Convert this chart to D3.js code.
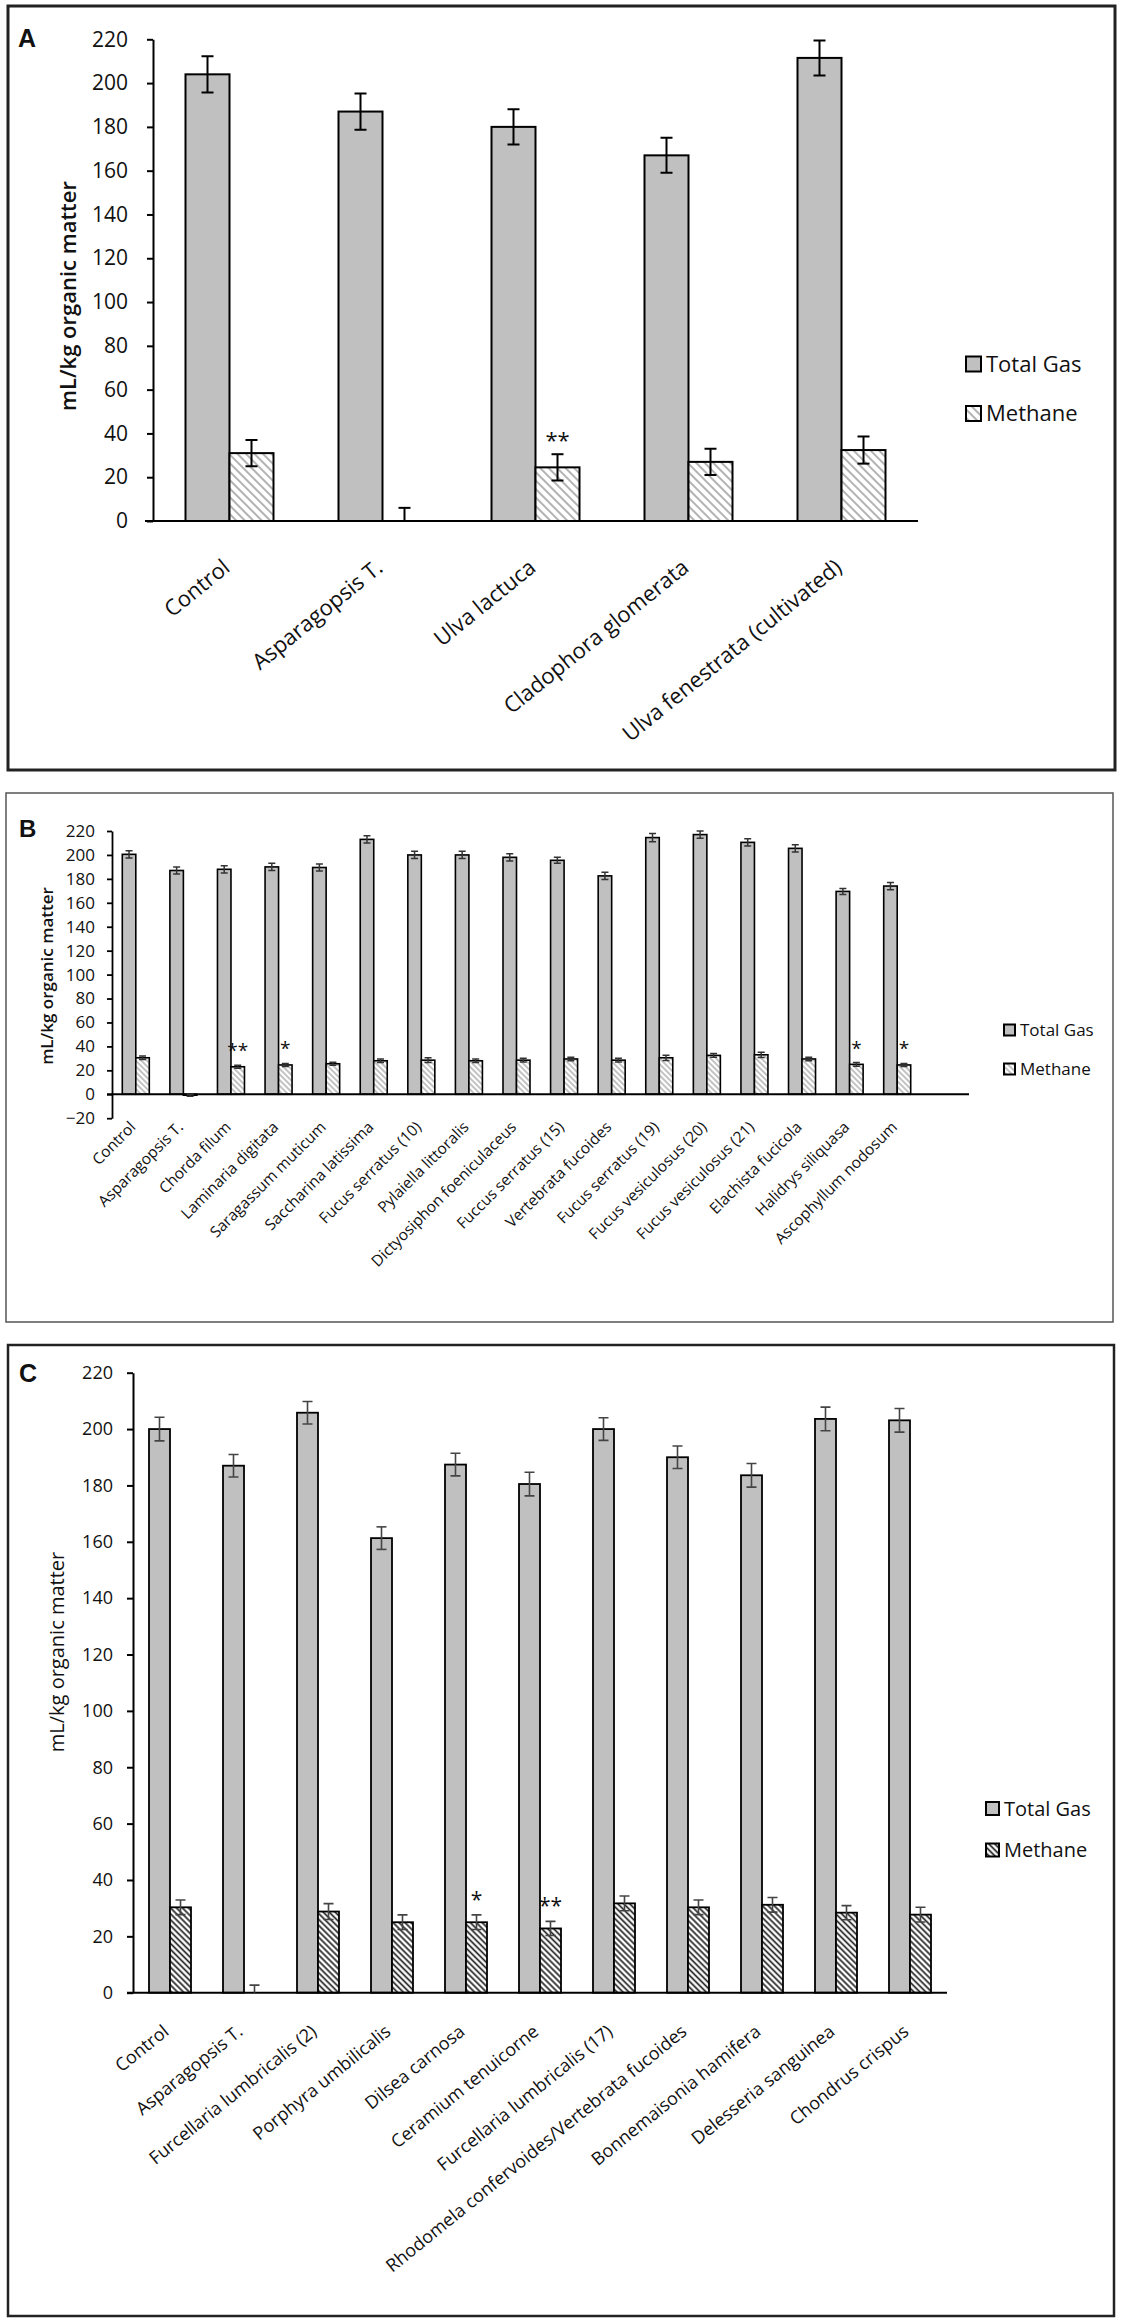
<!DOCTYPE html>
<html>
<head>
<meta charset="utf-8">
<script src="https://cdn.jsdelivr.net/npm/d3@7"></script>
<style>
	body { margin: 0; background: #fff; }
	text { font-family: "Open Sans", sans-serif; fill: #111; }
</style>
</head>
<body>
<div id="chart"></div>
<script>
// ---- panel A data ----
const categories_a = ["Control", "Asparagopsis T.", "Ulva lactuca", "Cladophora glomerata", "Ulva fenestrata (cultivated)"];
const total_gas_a = [204, 187, 180, 167, 211.5];
const total_gas_err_a = [8.3, 8.3, 8, 8, 8];
const methane_a = [31, 0, 24.5, 27, 32.4];
const methane_err_a = [6, 6, 6, 6, 6.2];
const stars_a = ["", "", "**", "", ""];
const y_ticks_a = [0, 20, 40, 60, 80, 100, 120, 140, 160, 180, 200, 220];

// ---- panel B data ----
const categories_b = ["Control", "Asparagopsis T.", "Chorda filum", "Laminaria digitata", "Saragassum muticum",
	"Saccharina latissima", "Fucus serratus (10)", "Pylaiella littoralis", "Dictyosiphon foeniculaceus",
	"Fuccus serratus (15)", "Vertebrata fucoides", "Fucus serratus (19)", "Fucus vesiculosus (20)",
	"Fucus vesiculosus (21)", "Elachista fucicola", "Halidrys siliquasa", "Ascophyllum nodosum"];
const total_gas_b = [200.5, 187, 188, 190, 189.5, 213, 200, 200, 198, 195.5, 182.5, 214.5, 217, 210.5, 205.5, 169.5, 174];
const total_gas_err_b = [3, 3, 3, 3, 3, 3, 3, 3, 3, 2.5, 3, 3.5, 3, 3, 3, 2.5, 3];
const methane_b = [30.5, -0.8, 23, 24.5, 25.5, 28, 28.5, 28, 28.5, 29.5, 28.5, 30.5, 32.5, 33, 29.5, 25, 24.5];
const methane_err_b = [1.5, 0.8, 1.3, 1.3, 1.3, 1.5, 2, 1.5, 1.5, 1.5, 1.5, 2.2, 1.5, 2.2, 1.5, 1.5, 1.3];
const stars_b = ["", "", "**", "*", "", "", "", "", "", "", "", "", "", "", "", "*", "*"];
const y_ticks_b = [-20, 0, 20, 40, 60, 80, 100, 120, 140, 160, 180, 200, 220];

// ---- panel C data ----
const categories_c = ["Control", "Asparagopsis T.", "Furcellaria lumbricalis (2)", "Porphyra umbilicalis",
	"Dilsea carnosa", "Ceramium tenuicorne", "Furcellaria lumbricalis (17)",
	"Rhodomela confervoides/Vertebrata fucoides", "Bonnemaisonia hamifera", "Delesseria sanguinea", "Chondrus crispus"];
const total_gas_c = [200, 187, 205.8, 161.3, 187.4, 180.5, 200, 190, 183.6, 203.6, 203.1];
const total_gas_err_c = [4.2, 4, 4, 4, 4, 4.2, 4, 4, 4.2, 4.2, 4.2];
const methane_c = [30.3, 0, 28.8, 25, 25, 22.8, 31.7, 30.3, 31.2, 28.4, 27.7];
const methane_err_c = [2.6, 2.7, 2.8, 2.6, 2.6, 2.5, 2.6, 2.6, 2.6, 2.5, 2.6];
const stars_c = ["", "", "", "", "*", "**", "", "", "", "", ""];
const y_ticks_c = [0, 20, 40, 60, 80, 100, 120, 140, 160, 180, 200, 220];

const series_names = ["Total Gas", "Methane"];
const y_title = "mL/kg organic matter";

const svg = d3.select("#chart").append("svg")
	.attr("width", 1122)
	.attr("height", 2320);
const defs = svg.append("defs");

// layout of the three panels (pixel positions only)
const panels = [
	{
		id: "a", letter: "A", cats: categories_a, tg: total_gas_a, tg_err: total_gas_err_a,
		ch4: methane_a, ch4_err: methane_err_a, stars: stars_a, ticks: y_ticks_a,
		frame: [8, 6, 1115, 770], frame_w: 3, frame_col: "#222",
		letter_pos: [18, 47], letter_size: 25,
		y_range: [521, 39.3], x_range: [153, 918], axis_end: 918, axis_start: 145,
		bar_w: 44, axis_w: 2, tick_size: 6, tick_font: 21, tick_pad: 19,
		label_font: 22, label_angle: -39, label_dx: -3, label_dy: 43,
		title_pos: [68, 296], title_font: 22, title_weight: 600,
		legend_x: 966, legend_y: [364, 413.5], legend_box: 15, legend_font: 22,
		star_font: 22, star_gap: 6,
		err_cap: 12, err_col: "#000", err_w: 2, bar_stroke: 2,
		hatch: { col: "#a0a0a0", w: 1.6, gap: 6 },
	},
	{
		id: "b", letter: "B", cats: categories_b, tg: total_gas_b, tg_err: total_gas_err_b,
		ch4: methane_b, ch4_err: methane_err_b, stars: stars_b, ticks: y_ticks_b,
		frame: [6, 793, 1113, 1322], frame_w: 1.5, frame_col: "#555",
		letter_pos: [19, 837], letter_size: 24,
		y_range: [1118.2, 831], x_range: [112, 921], axis_end: 969, axis_start: 107,
		bar_w: 13.5, axis_w: 1.8, tick_size: 5, tick_font: 17, tick_pad: 12,
		label_font: 15.5, label_angle: -45, label_dx: -3, label_dy: 6,
		title_pos: [47, 976], title_font: 17, title_weight: 600,
		legend_x: 1004, legend_y: [1030, 1069], legend_box: 11, legend_font: 17,
		star_font: 19, star_gap: 8,
		err_cap: 7, err_col: "#333", err_w: 1.5, bar_stroke: 1.6,
		hatch: { col: "#9a9a9a", w: 1.2, gap: 4 },
	},
	{
		id: "c", letter: "C", cats: categories_c, tg: total_gas_c, tg_err: total_gas_err_c,
		ch4: methane_c, ch4_err: methane_err_c, stars: stars_c, ticks: y_ticks_c,
		frame: [8, 1345, 1114, 2316], frame_w: 2.5, frame_col: "#222",
		letter_pos: [19, 1382], letter_size: 25,
		y_range: [1992.7, 1372.7], x_range: [133, 947], axis_end: 947, axis_start: 127,
		bar_w: 21, axis_w: 2, tick_size: 6, tick_font: 18, tick_pad: 14,
		label_font: 18, label_angle: -39, label_dx: -4, label_dy: 36,
		title_pos: [57, 1652], title_font: 20, title_weight: 400,
		legend_x: 986, legend_y: [1808.5, 1850], legend_box: 13, legend_font: 20,
		star_font: 21, star_gap: 8,
		err_cap: 10, err_col: "#444", err_w: 1.6, bar_stroke: 1.8,
		hatch: { col: "#222", w: 1.7, gap: 4.2 },
	},
];

function make_hatch(p) {
	const pat = defs.append("pattern")
		.attr("id", "hatch_" + p.id)
		.attr("patternUnits", "userSpaceOnUse")
		.attr("width", p.hatch.gap)
		.attr("height", p.hatch.gap)
		.attr("patternTransform", "rotate(-45)");
	pat.append("rect")
		.attr("width", p.hatch.gap)
		.attr("height", p.hatch.gap)
		.attr("fill", "#fff");
	pat.append("line")
		.attr("x1", p.hatch.gap / 2).attr("x2", p.hatch.gap / 2)
		.attr("y1", 0).attr("y2", p.hatch.gap)
		.attr("stroke", p.hatch.col)
		.attr("stroke-width", p.hatch.w);
	return "url(#hatch_" + p.id + ")";
}

function draw_panel(p) {
	const g = svg.append("g").attr("class", "panel_" + p.id);
	const hatch = make_hatch(p);
	const fills = ["#c0c0c0", hatch];

	// frame
	g.append("rect")
		.attr("x", p.frame[0])
		.attr("y", p.frame[1])
		.attr("width", p.frame[2] - p.frame[0])
		.attr("height", p.frame[3] - p.frame[1])
		.attr("fill", "none")
		.attr("stroke", p.frame_col)
		.attr("stroke-width", p.frame_w);

	g.append("text")
		.attr("x", p.letter_pos[0])
		.attr("y", p.letter_pos[1])
		.style("font-family", "'Liberation Sans', Arial, sans-serif")
		.style("font-weight", "bold")
		.style("font-size", p.letter_size + "px")
		.text(p.letter);

	const y = d3.scaleLinear()
		.domain([p.ticks[0], p.ticks[p.ticks.length - 1]])
		.range(p.y_range);
	const x = d3.scaleBand()
		.domain(p.cats)
		.range(p.x_range);
	const half = p.bar_w;
	const x_sub = d3.scaleBand()
		.domain(series_names)
		.range([x.bandwidth() / 2 - half, x.bandwidth() / 2 + half]);

	// y axis
	const y_axis = g.append("g")
		.attr("transform", `translate(${p.x_range[0]},0)`)
		.call(d3.axisLeft(y)
			.tickValues(p.ticks)
			.tickSize(p.tick_size)
			.tickSizeOuter(0)
			.tickPadding(p.tick_pad));
	y_axis.select(".domain").attr("stroke", "#000").attr("stroke-width", p.axis_w);
	y_axis.selectAll(".tick line").attr("stroke", "#000").attr("stroke-width", p.axis_w);
	y_axis.selectAll(".tick text")
		.style("font-size", p.tick_font + "px")
		.style("font-family", "'Open Sans', sans-serif")
		.attr("fill", "#111");

	// y title
	g.append("text")
		.attr("transform", `translate(${p.title_pos[0]},${p.title_pos[1]}) rotate(-90)`)
		.attr("text-anchor", "middle")
		.attr("dy", "0.35em")
		.style("font-size", p.title_font + "px")
		.style("font-weight", p.title_weight)
		.text(y_title);

	// rows for bars
	const rows = [];
	p.cats.forEach(function (c, i) {
		rows.push({ cat: c, key: "Total Gas", value: p.tg[i], err: p.tg_err[i], star: "" });
		rows.push({ cat: c, key: "Methane", value: p.ch4[i], err: p.ch4_err[i], star: p.stars[i] });
	});

	g.append("g")
		.selectAll("rect")
		.data(rows)
		.join("rect")
		.attr("x", d => x(d.cat) + x_sub(d.key))
		.attr("y", d => y(Math.max(0, d.value)))
		.attr("width", x_sub.bandwidth())
		.attr("height", d => Math.abs(y(d.value) - y(0)))
		.attr("fill", d => fills[series_names.indexOf(d.key)])
		.attr("stroke", "#000")
		.attr("stroke-width", p.bar_stroke);

	// x axis line at zero
	g.append("line")
		.attr("x1", p.axis_start)
		.attr("x2", p.axis_end)
		.attr("y1", y(0))
		.attr("y2", y(0))
		.attr("stroke", "#000")
		.attr("stroke-width", p.axis_w);

	// error bars, clipped to the plot area
	defs.append("clipPath")
		.attr("id", "clip_" + p.id)
		.append("rect")
		.attr("x", p.x_range[0])
		.attr("y", p.y_range[1] - 20)
		.attr("width", p.axis_end - p.x_range[0] + 20)
		.attr("height", p.y_range[0] - p.y_range[1] + 20);
	const err_g = g.append("g").attr("clip-path", "url(#clip_" + p.id + ")");
	const cx = d => x(d.cat) + x_sub(d.key) + x_sub.bandwidth() / 2;
	err_g.selectAll(".err_v")
		.data(rows)
		.join("line")
		.attr("x1", cx).attr("x2", cx)
		.attr("y1", d => y(d.value - d.err))
		.attr("y2", d => y(d.value + d.err))
		.attr("stroke", p.err_col)
		.attr("stroke-width", p.err_w);
	[-1, 1].forEach(function (s) {
		err_g.selectAll(".err_cap" + s)
			.data(rows)
			.join("line")
			.attr("x1", d => cx(d) - p.err_cap / 2)
			.attr("x2", d => cx(d) + p.err_cap / 2)
			.attr("y1", d => y(d.value + s * d.err))
			.attr("y2", d => y(d.value + s * d.err))
			.attr("stroke", p.err_col)
			.attr("stroke-width", p.err_w);
	});

	// significance stars
	g.append("g")
		.selectAll("text")
		.data(rows.filter(d => d.star !== ""))
		.join("text")
		.attr("x", cx)
		.attr("y", d => y(d.value + d.err) - p.star_gap)
		.attr("text-anchor", "middle")
		.style("font-size", p.star_font + "px")
		.text(d => d.star);

	// category labels
	g.append("g")
		.selectAll("text")
		.data(p.cats)
		.join("text")
		.attr("transform", d => `translate(${x(d) + x.bandwidth() / 2 + p.label_dx},${p.y_range[0] + p.label_dy}) rotate(${p.label_angle})`)
		.attr("text-anchor", "end")
		.attr("dy", "0.35em")
		.style("font-size", p.label_font + "px")
		.text(d => d);

	// legend
	const leg = g.append("g")
		.selectAll("g")
		.data(series_names)
		.join("g")
		.attr("transform", (d, i) => `translate(${p.legend_x},${p.legend_y[i]})`);
	leg.append("rect")
		.attr("x", 0)
		.attr("y", -p.legend_box / 2)
		.attr("width", p.legend_box)
		.attr("height", p.legend_box)
		.attr("fill", (d, i) => fills[i])
		.attr("stroke", "#000")
		.attr("stroke-width", 2);
	leg.append("text")
		.attr("x", p.legend_box + 5)
		.attr("dy", "0.35em")
		.style("font-size", p.legend_font + "px")
		.text(d => d);
}

panels.forEach(draw_panel);
</script>
</body>
</html>
